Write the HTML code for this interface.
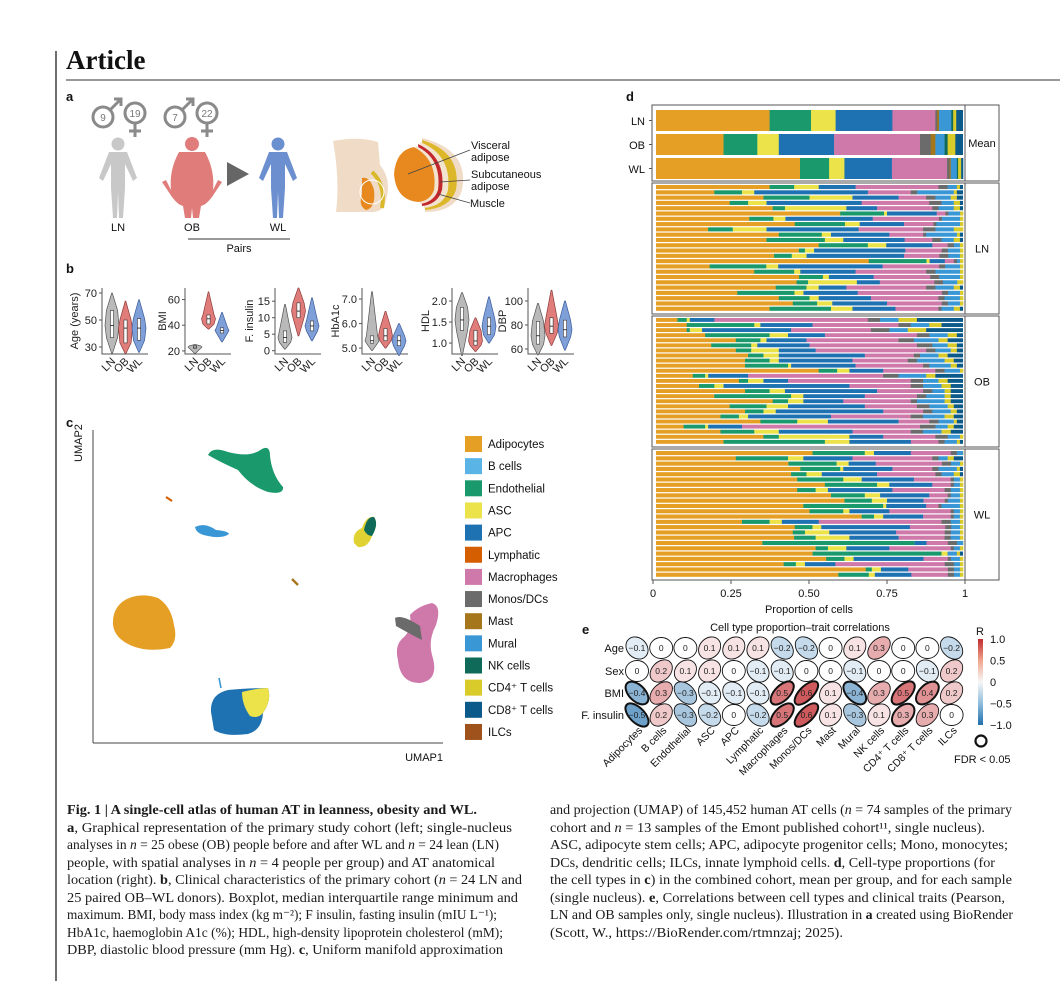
<!DOCTYPE html>
<html><head><meta charset="utf-8">
<style>
html,body{margin:0;padding:0;background:#fff;}
svg{display:block;font-family:"Liberation Sans",sans-serif;}
.cap{font-family:"Liberation Serif",serif;font-size:13.3px;fill:#1a1a1a;}
.tk{font-size:11px;fill:#222;}
</style></head>
<body>
<svg id="fig" width="1060" height="981" viewBox="0 0 1060 981" xmlns="http://www.w3.org/2000/svg">
<rect width="1060" height="981" fill="#fff"/>
<line x1="56" y1="51" x2="56" y2="981" stroke="#222" stroke-width="1.3"/>
<text x="66" y="69" font-family="Liberation Serif,serif" font-weight="bold" font-size="27" fill="#111">Article</text>
<line x1="66" y1="80" x2="1060" y2="80" stroke="#333" stroke-width="1"/>

<g font-weight="bold" font-size="13" fill="#111">
<text x="66" y="101">a</text>
<text x="66" y="273">b</text>
<text x="66" y="427">c</text>
<text x="626" y="101">d</text>
<text x="582" y="634">e</text>
</g>

<g id="panelA">
 <g fill="none" stroke="#8a8a8a" stroke-width="3">
  <circle cx="103" cy="117" r="10"/><path d="M110 110 L121 99 M114 99 H121 V106"/>
  <circle cx="135" cy="113" r="10"/><path d="M135 123 V137 M129 131 H141"/>
  <circle cx="175" cy="117" r="10"/><path d="M182 110 L193 99 M186 99 H193 V106"/>
  <circle cx="207" cy="113" r="10"/><path d="M207 123 V137 M201 131 H213"/>
 </g>
 <g font-size="10" fill="#777" text-anchor="middle">
  <text x="103" y="121">9</text>
  <text x="135" y="117">19</text>
  <text x="175" y="121">7</text>
  <text x="207" y="117">22</text>
 </g>
 <g fill="#c8c8c8">
  <circle cx="118" cy="144" r="6.5"/><path d="M109 152 H127 L137 178 L133 181 L125 164 L125 188 L123 218 L119 218 L118 192 L117 218 L113 218 L111 188 L111 164 L103 181 L99 178 Z"/>
 </g>
 <g fill="#e07d7b">
  <circle cx="192" cy="144" r="7"/><path d="M179 152 H205 Q215 170 213 190 L218 180 L222 182 L212 197 Q206 205 201 206 L199 218 L193 218 L192 208 L191 218 L185 218 L183 206 Q178 205 172 197 L162 182 L166 180 L171 190 Q169 170 179 152 Z"/>
 </g>
 <polygon points="227,162 249,174 227,186" fill="#666"/>
 <g fill="#6c8fd0">
  <circle cx="278" cy="144" r="6.5"/><path d="M269 152 H287 L297 178 L293 181 L285 164 L285 188 L283 218 L279 218 L278 192 L277 218 L273 218 L271 188 L271 164 L263 181 L259 178 Z"/>
 </g>
 <g font-size="11" fill="#111" text-anchor="middle">
  <text x="118" y="231">LN</text>
  <text x="192" y="231">OB</text>
  <text x="278" y="231">WL</text>
  <text x="239" y="252">Pairs</text>
 </g>
 <line x1="188" y1="239" x2="290" y2="239" stroke="#333"/>
 <g>
  <path d="M333 141 Q360 136 378 142 L380 165 Q392 180 386 200 Q384 212 372 212 L336 212 Q340 180 333 141 Z" fill="#f0dcc6"/>
  <path d="M362 178 Q370 176 374 190 Q376 208 366 210 Q358 206 362 194 Z" fill="#e8891f"/>
  <path d="M372 172 Q386 185 382 208" stroke="#d9b92a" stroke-width="4" fill="none"/>
  <circle cx="372" cy="192" r="12" fill="none" stroke="#fff" stroke-width="1"/>
  <path d="M422 138 Q470 150 462 190 Q455 212 425 212 Z" fill="#f0dcc6"/>
  <path d="M422 140 Q462 152 456 190 Q450 208 425 210 Z" fill="#dcb72a"/>
  <path d="M420 142 Q452 155 448 190 Q444 206 424 208 Z" fill="#f2e4cf"/>
  <path d="M418 144 Q446 157 442 190 Q438 204 422 206 Z" fill="#c2272d"/>
  <path d="M416 146 Q442 158 438 190 Q434 202 420 204 Z" fill="#f2e4cf"/>
  <path d="M414 147 Q438 160 434 190 Q430 201 418 202 Q396 200 394 174 Q396 150 414 147 Z" fill="#e8891f"/>
 </g>
 <g stroke="#444" stroke-width="0.8">
  <line x1="408" y1="174" x2="470" y2="150"/><line x1="440" y1="182" x2="470" y2="180"/><line x1="438" y1="194" x2="470" y2="203"/>
 </g>
 <g font-size="11" fill="#111">
  <text x="471" y="149">Visceral</text>
  <text x="471" y="161">adipose</text>
  <text x="471" y="178">Subcutaneous</text>
  <text x="471" y="190">adipose</text>
  <text x="470" y="207">Muscle</text>
 </g>
</g>

<g id="panelB"></g>
<g id="panelC">
 <line x1="93" y1="430" x2="93" y2="743" stroke="#444"/>
 <line x1="93" y1="743" x2="443" y2="743" stroke="#444"/>
 <text x="0" y="0" transform="translate(82,462) rotate(-90)" font-size="11" fill="#111">UMAP2</text>
 <text x="443" y="761" font-size="11" fill="#111" text-anchor="end">UMAP1</text>
 <g>
  <path d="M208 455 Q212 446 228 452 Q250 458 262 449 Q270 445 270 456 Q272 475 283 487 Q284 495 268 492 Q250 486 238 470 Q220 462 208 455 Z" fill="#1a9a6c"/>
  <path d="M195 527 Q205 522 216 530 Q228 531 229 534 Q222 539 208 536 Q196 534 195 527 Z" fill="#3a97d6"/>
  <path d="M166 497 L172 501" stroke="#d55e00" stroke-width="2"/>
  <path d="M292 579 L298 585" stroke="#a6761d" stroke-width="2.4"/>
  <path d="M354 543 Q352 532 362 528 Q366 516 374 517 Q379 524 372 536 Q368 548 358 547 Z" fill="#e0d233"/>
  <path d="M364 530 Q367 516 374 517 Q379 524 372 536 Q367 536 364 530 Z" fill="#0f6a59"/>
  <path d="M113 625 Q112 608 125 600 Q140 592 158 598 Q171 606 174 625 Q178 640 170 648 Q150 652 135 647 Q115 640 113 625 Z" fill="#e69f25"/>
  <path d="M398 660 Q394 645 404 637 Q412 630 410 615 Q418 606 432 603 Q442 606 436 625 Q428 640 432 655 Q440 680 420 683 Q400 683 398 660 Z" fill="#cf78aa"/>
  <path d="M395 618 Q402 614 420 626 L422 640 Q410 634 396 626 Z" fill="#6b6b6b"/>
  <path d="M211 712 Q210 694 228 690 Q250 688 268 688 Q272 700 263 713 Q262 730 248 734 Q225 737 214 730 Z" fill="#1f72b2"/>
  <path d="M242 692 Q258 688 268 688 Q272 700 263 713 Q258 719 250 716 Q242 705 242 692 Z" fill="#ece24a"/>
  <path d="M219 678 L221 688" stroke="#3a97d6" stroke-width="1.6"/>
 </g>
 <g id="legendC"></g>
</g>

<g id="panelD"></g>
<g id="panelE"></g>

<g class="cap">
 <text x="67" y="814" textLength="410" lengthAdjust="spacingAndGlyphs" font-weight="bold">Fig. 1 | A single-cell atlas of human AT in leanness, obesity and WL.</text>
 <text x="67" y="832" textLength="445" lengthAdjust="spacingAndGlyphs"><tspan font-weight="bold">a</tspan>, Graphical representation of the primary study cohort (left; single-nucleus</text>
 <text x="67" y="849" textLength="432" lengthAdjust="spacingAndGlyphs">analyses in <tspan font-style="italic">n</tspan> = 25 obese (OB) people before and after WL and <tspan font-style="italic">n</tspan> = 24 lean (LN)</text>
 <text x="67" y="867" textLength="428" lengthAdjust="spacingAndGlyphs">people, with spatial analyses in <tspan font-style="italic">n</tspan> = 4 people per group) and AT anatomical</text>
 <text x="67" y="884" textLength="455" lengthAdjust="spacingAndGlyphs">location (right). <tspan font-weight="bold">b</tspan>, Clinical characteristics of the primary cohort (<tspan font-style="italic">n</tspan> = 24 LN and</text>
 <text x="67" y="902" textLength="451" lengthAdjust="spacingAndGlyphs">25 paired OB–WL donors). Boxplot, median interquartile range minimum and</text>
 <text x="67" y="919" textLength="430" lengthAdjust="spacingAndGlyphs">maximum. BMI, body mass index (kg m⁻²); F insulin, fasting insulin (mIU L⁻¹);</text>
 <text x="67" y="937" textLength="436" lengthAdjust="spacingAndGlyphs">HbA1c, haemoglobin A1c (%); HDL, high-density lipoprotein cholesterol (mM);</text>
 <text x="67" y="954" textLength="436" lengthAdjust="spacingAndGlyphs">DBP, diastolic blood pressure (mm Hg). <tspan font-weight="bold">c</tspan>, Uniform manifold approximation</text>
 <text x="550" y="814" textLength="462" lengthAdjust="spacingAndGlyphs">and projection (UMAP) of 145,452 human AT cells (<tspan font-style="italic">n</tspan> = 74 samples of the primary</text>
 <text x="550" y="832" textLength="435" lengthAdjust="spacingAndGlyphs">cohort and <tspan font-style="italic">n</tspan> = 13 samples of the Emont published cohort¹¹, single nucleus).</text>
 <text x="550" y="849" textLength="458" lengthAdjust="spacingAndGlyphs">ASC, adipocyte stem cells; APC, adipocyte progenitor cells; Mono, monocytes;</text>
 <text x="550" y="867" textLength="445" lengthAdjust="spacingAndGlyphs">DCs, dendritic cells; ILCs, innate lymphoid cells. <tspan font-weight="bold">d</tspan>, Cell-type proportions (for</text>
 <text x="550" y="884" textLength="462" lengthAdjust="spacingAndGlyphs">the cell types in <tspan font-weight="bold">c</tspan>) in the combined cohort, mean per group, and for each sample</text>
 <text x="550" y="902" textLength="455" lengthAdjust="spacingAndGlyphs">(single nucleus). <tspan font-weight="bold">e</tspan>, Correlations between cell types and clinical traits (Pearson,</text>
 <text x="550" y="919" textLength="463" lengthAdjust="spacingAndGlyphs">LN and OB samples only, single nucleus). Illustration in <tspan font-weight="bold">a</tspan> created using BioRender</text>
 <text x="550" y="937" textLength="293" lengthAdjust="spacingAndGlyphs">(Scott, W., https://BioRender.com/rtmnzaj; 2025).</text>
</g>
</svg>

<script>
var NS='http://www.w3.org/2000/svg';
function mk(tag,attrs,parent){var e=document.createElementNS(NS,tag);for(var k in attrs)e.setAttribute(k,attrs[k]);parent.appendChild(e);return e;}

var cellTypes=['Adipocytes','B cells','Endothelial','ASC','APC','Lymphatic','Macrophages','Monos/DCs','Mast','Mural','NK cells','CD4⁺ T cells','CD8⁺ T cells','ILCs'];
var cellColors=['#e69f25','#5ab4e5','#1a9a6c','#ece24a','#1f72b2','#d55e00','#cf78aa','#6b6b6b','#a6761d','#3a97d6','#0f6a59','#d9cb2a','#0b5a8a','#a0521c'];

var traitNames=['Age (years)','BMI','F. insulin','HbA1c','HDL','DBP'];
var groupNames=['LN','OB','WL'];
var traitTicks=[[30,50,70],[20,40,60],[0,5,10,15],[5.0,6.0,7.0],[1.0,1.5,2.0],[60,80,100]];
var traitTickLabels=[['30','50','70'],['20','40','60'],['0','5','10','15'],['5.0','6.0','7.0'],['1.0','1.5','2.0'],['60','80','100']];
var traitDomains=[[24.8,73.7],[17.6,69],[-1,19],[4.76,7.45],[0.74,2.31],[55.8,110.8]];
var statsAge=[[25,37,46,57,70],[25,33,44,50,64],[26,35,44,51,65]];
var statsBMI=[[18,22,23,24,25],[37,41,45,48,66],[27,34,36,38,50]];
var statsIns=[[0.5,2.5,4,6,14],[4.5,10,12,14.5,19],[3,6,7.5,9,16]];
var statsHb=[[4.9,5.2,5.3,5.5,7.3],[5.0,5.3,5.5,5.8,6.5],[4.7,5.1,5.3,5.5,6.0]];
var statsHDL=[[0.7,1.3,1.55,1.85,2.2],[0.8,0.95,1.05,1.3,1.6],[1.0,1.2,1.4,1.6,2.1]];
var statsDBP=[[55,64,71,83,98],[63,73,79,86,109],[59,70,76,84,100]];
var allStats=[statsAge,statsBMI,statsIns,statsHb,statsHDL,statsDBP];

var meanLN=[37,13.5,8,18.5,14,0.6,0.6,4,0.6,1,0.6];
var meanOB=[22,11,7,18,28,3.5,1.5,3,1,2.5,1];
var meanWL=[47,9.5,5,15.5,18,0.8,0.4,2,0.4,1,0.6];
var samplesLN=["37 8 8 12 27 3 3 1","19 9 4 37 14 2 12 1","35 15 14 15 9 3 5 2","24 6 6 31 22 4 4 2","38 4 20 10 18 2 5 2","63 15 1 17 3 1 4 1","31 8 4 29 22 1 6 1","47 17 5 15 10 1 8 1","17 8 11 30 21 4 6 3","40 14 3 19 11 1 10 1","36 19 6 20 9 3 4 2","53 16 6 15 5 2 2 1","47 2 3 30 12 2 4 1","40 6 5 33 12 3 4 1","70 19 1 5 3 1 1 1","18 19 4 35 19 2 5 1","32 13 2 18 23 3 8 1","48 8 2 15 19 3 7 1","49 4 17 8 19 3 5 2","39 10 4 9 26 3 6 2","27 19 3 18 28 2 4 1","40 10 3 17 22 2 5 1","45 8 5 18 18 2 4 1","37 20 7 14 14 1 4 2"];
var samplesOB=["7 3 1 8 50 4 6 6","10 22 2 17 28 4 6 4","10 1 4 29 26 6 6 6","16 21 6 12 30 4 6 3","26 8 2 13 30 5 8 3","18 13 2 17 35 5 5 3","26 5 9 12 36 3 5 2","30 5 5 28 16 2 6 3","29 8 3 24 18 3 9 3","29 14 1 21 22 2 7 2","53 6 4 11 17 3 5 1","12 4 1 13 44 5 9 3","27 3 5 8 40 4 5 3","14 5 3 41 20 4 6 3","29 8 5 30 15 3 4 2","19 25 4 20 17 3 6 2","38 5 5 13 22 2 9 2","24 12 7 25 17 4 6 2","29 6 4 35 13 3 6 2","21 6 3 27 26 4 7 3","34 12 10 23 10 3 5 1","9 7 1 11 58 5 4 2","21 11 8 24 19 4 6 3","35 5 23 11 17 4 4 1","22 33 8 20 9 2 4 1"];
var samplesWL=["51 17 3 12 13 2 2 0","26 17 5 16 26 2 3 2","44 16 4 9 22 3 3 1","47 13 1 16 13 2 6 1","44 5 5 18 19 2 4 2","46 15 6 17 12 1 2 1","55 17 4 14 6 1 2 1","46 6 4 21 17 2 3 1","57 11 5 16 6 1 3 1","62 9 5 12 7 1 4 1","48 26 1 13 4 1 6 1","50 11 2 13 20 1 2 1","67 4 3 13 9 1 2 1","28 9 4 12 40 3 3 1","47 6 3 30 12 2 3 1","45 4 8 22 16 2 3 1","45 7 11 16 15 2 3 1","35 50 0 4 7 3 2 0","52 4 6 14 20 1 2 1","51 42 2 0 0 0 3 1","56 6 3 23 8 1 3 1","42 4 3 10 36 3 2 1","69 2 3 9 13 2 2 1","60 10 2 12 12 2 2 1"];
var axisTicksD=[0,0.25,0.5,0.75,1];
var axisTickLabelsD=['0','0.25','0.50','0.75','1'];

var corrTraits=['Age','Sex','BMI','F. insulin'];
var corrAge=[-0.1,0,0,0.1,0.1,0.1,-0.2,-0.2,0,0.1,0.3,0,0,-0.2];
var corrSex=[0,0.2,0.1,0.1,0,-0.1,-0.1,0,0,-0.1,0,0,-0.1,0.2];
var corrBMI=[-0.4,0.3,-0.3,-0.1,-0.1,-0.1,0.5,0.6,0.1,-0.4,0.3,0.5,0.4,0.2];
var corrIns=[-0.5,0.2,-0.3,-0.2,0,-0.2,0.5,0.6,0.1,-0.3,0.1,0.3,0.3,0];
var sigAge=[0,0,0,0,0,0,0,0,0,0,0,0,0,0];
var sigSex=[0,0,0,0,0,0,0,0,0,0,0,0,0,0];
var sigBMI=[1,0,0,0,0,0,1,1,0,1,0,1,1,0];
var sigIns=[1,0,0,0,0,0,1,1,0,0,0,1,0,0];
var corrCols=['Adipocytes','B cells','Endothelial','ASC','APC','Lymphatic','Macrophages','Monos/DCs','Mast','Mural','NK cells','CD4⁺ T cells','CD8⁺ T cells','ILCs'];
var cbTicks=[1.0,0.5,0,-0.5,-1.0];
var cbTickLabels=['1.0','0.5','0','−0.5','−1.0'];

(function(){
 var g=document.getElementById('panelB');
 var axX=[102,185,275,362,452,528];
 var labX=[78,166,253,339,429,506];
 var top=288,bot=354;
 var gcol=['#b9b9b9','#e07d7b','#7f9fd8'];
 var gstroke=['#555','#8a3b3a','#3a5c98'];
 for(var p=0;p<6;p++){
  var dom=traitDomains[p];
  var y=(function(d){return function(v){return bot-(v-d[0])/(d[1]-d[0])*(bot-top);};})(dom);
  var ax=axX[p];
  var a=mk('path',{d:'M'+ax+' '+top+' V'+bot+' H'+(ax+46),fill:'none',stroke:'#555','stroke-width':1},g);
  
  
  for(var t=0;t<traitTicks[p].length;t++){
   var ty=y(traitTicks[p][t]);
   mk('line',{x1:ax-3,x2:ax,y1:ty,y2:ty,stroke:'#555'},g);
   var tl=mk('text',{x:ax-5,y:ty+4,'text-anchor':'end','class':'tk'},g);
   tl.textContent=traitTickLabels[p][t];
   
   
  }
  var yl=mk('text',{transform:'translate('+labX[p]+','+(top+33)+') rotate(-90)','text-anchor':'middle','class':'tk'},g);
  yl.textContent=traitNames[p];
  
  
  for(var k=0;k<3;k++){
   var s=allStats[p][k];
   var cx=ax+10+k*13.5;
   var mw=7;
   var prof=[[s[0],0.05],[s[1],0.8],[s[2],1],[s[3],0.8],[s[4],0.05]];
   var right=[],left=[],i;
   for(i=0;i<prof.length;i++){right.push([cx+prof[i][1]*mw,y(prof[i][0])]);left.push([cx-prof[i][1]*mw,y(prof[i][0])]);}
   var d='M'+right[0][0]+' '+right[0][1];
   for(i=1;i<right.length;i++)d+=' L'+right[i][0].toFixed(1)+' '+right[i][1].toFixed(1);
   for(i=left.length-1;i>=0;i--)d+=' L'+left[i][0].toFixed(1)+' '+left[i][1].toFixed(1);
   d+='Z';
   var v=mk('path',{d:d,fill:gcol[k],stroke:gstroke[k],'stroke-width':0.7,'stroke-linejoin':'round'},g);
   
   
   var bx=mk('rect',{x:cx-1.6,y:y(s[3]),width:3.2,height:y(s[1])-y(s[3]),fill:'#fff',stroke:'#333','stroke-width':0.6},g);
   
   
   mk('line',{x1:cx-1.6,x2:cx+1.6,y1:y(s[2]),y2:y(s[2]),stroke:'#111','stroke-width':0.8},g);
   var xl=mk('text',{transform:'translate('+(cx+4)+','+(bot+8)+') rotate(-45)','text-anchor':'end','class':'tk'},g);
   xl.textContent=groupNames[k];
   
   
  }
 }
})();

(function(){
 var g=document.getElementById('legendC');
 for(var i=0;i<cellTypes.length;i++){
  var cy=444+i*22.15;
  var r=mk('rect',{x:465,y:cy-8,width:17,height:16,fill:cellColors[i]},g);
  
  
  var t=mk('text',{x:488,y:cy+4,'font-size':11.5,fill:'#111'},g);
  t.textContent=cellTypes[i];
  
  
 }
})();

(function(){
 var g=document.getElementById('panelD');
 var x0=656,x1=963;
 function X(v){return x0+v*(x1-x0);}
 var meanOrder=[0,2,3,4,6,7,8,9,10,11,12];
 var sampOrder=[0,2,3,4,6,7,9,11];
 var boxes=[[105,181,'Mean'],[183,314,'LN'],[316,447,'OB'],[449,580,'WL']];
 for(var b=0;b<boxes.length;b++){
  var r=mk('rect',{x:652,y:boxes[b][0],width:313,height:boxes[b][1]-boxes[b][0],fill:'#fff',stroke:'#555','stroke-width':1},g);
  
  
  var s=mk('rect',{x:965,y:boxes[b][0],width:34,height:boxes[b][1]-boxes[b][0],fill:'#fff',stroke:'#555','stroke-width':1},g);
  
  
  var st=mk('text',{x:982,y:(boxes[b][0]+boxes[b][1])/2+4,'text-anchor':'middle','font-size':11,fill:'#111'},g);
  st.textContent=boxes[b][2];
  
  
 }
 function drawRow(vals,order,y,h,rest){
  var tot=0,i;for(i=0;i<vals.length;i++)tot+=vals[i];
  var denom=Math.max(100,tot);
  var acc=0;
  for(i=0;i<vals.length;i++){
   var w=vals[i]/denom;
   var r=mk('rect',{x:X(acc),y:y,width:Math.max(0,X(acc+w)-X(acc))+0.3,height:h,fill:cellColors[order[i]]},g);
   
   
   acc+=w;
  }
  if(rest&&acc<1){
   var r2=mk('rect',{x:X(acc),y:y,width:X(1)-X(acc),height:h,fill:cellColors[12]},g);
   
   
  }
 }
 var means=[meanLN,meanOB,meanWL];
 var meanY=[110,134,158];
 for(var m=0;m<3;m++){
  drawRow(means[m],meanOrder,meanY[m],21,true);
  mk('line',{x1:649,x2:652,y1:meanY[m]+10.5,y2:meanY[m]+10.5,stroke:'#555'},g);
  var lt=mk('text',{x:645,y:meanY[m]+15,'text-anchor':'end','font-size':11,fill:'#111'},g);
  lt.textContent=groupNames[m];
  
  
 }
 var sets=[samplesLN,samplesOB,samplesWL];
 for(var s=0;s<3;s++){
  var top=boxes[s+1][0]+2,bot=boxes[s+1][1]-2;
  var n=sets[s].length,pitch=(bot-top)/n;
  for(var i=0;i<n;i++){
   var vals=sets[s][i].split(' ').map(Number);
   drawRow(vals,sampOrder,top+i*pitch,pitch-1.2,true);
  }
 }
 for(var t=0;t<axisTicksD.length;t++){
  var tx=653+axisTicksD[t]*(965-653);
  mk('line',{x1:tx,x2:tx,y1:580,y2:584,stroke:'#555'},g);
  var tl=mk('text',{x:tx,y:597,'text-anchor':'middle','font-size':11,fill:'#111'},g);
  tl.textContent=axisTickLabelsD[t];
  
  
 }
 var xt=mk('text',{x:809,y:613,'text-anchor':'middle','font-size':11,fill:'#111'},g);
 xt.textContent='Proportion of cells';
 
 
})();

(function(){
 var g=document.getElementById('panelE');
 var rows=[corrAge,corrSex,corrBMI,corrIns];
 var sigs=[sigAge,sigSex,sigBMI,sigIns];
 var rowY=[648,671,693,715];
 function colX(i){return 637+i*24.2;}
 function col(r){
  var t=Math.min(1,Math.abs(r)*1.3);
  var c=r>=0?[194,43,47]:[31,111,173];
  var rgb=[0,1,2].map(function(j){return Math.round(255+(c[j]-255)*t);});
  return 'rgb('+rgb.join(',')+')';
 }
 var tt=mk('text',{x:800,y:631,'text-anchor':'middle','font-size':11,fill:'#111'},g);
 tt.textContent='Cell type proportion–trait correlations';
 
 
 for(var r=0;r<4;r++){
  var lab=mk('text',{x:624,y:rowY[r]+4,'text-anchor':'end','font-size':11,fill:'#111'},g);
  lab.textContent=corrTraits[r];
  
  
  for(var c=0;c<14;c++){
   var v=rows[r][c],a=Math.abs(v);
   var rx=11.5+6*a,ry=10.5-6*a;
   var rot=v>0?-45:(v<0?45:0);
   var e=mk('ellipse',{cx:0,cy:0,rx:rx,ry:ry,fill:col(v),stroke:'#111','stroke-width':sigs[r][c]?2:0.9,transform:'translate('+colX(c)+','+rowY[r]+') rotate('+rot+')'},g);
   
   
   var tx=mk('text',{x:colX(c),y:rowY[r]+3,'text-anchor':'middle','font-size':8.5,fill:'#222'},g);
   tx.textContent=v===0?'0':(v<0?'−':'')+a.toFixed(1);
   
   
  }
 }
 for(var c2=0;c2<14;c2++){
  var cl=mk('text',{transform:'translate('+(colX(c2)+6)+',731) rotate(-45)','text-anchor':'end','font-size':10.5,fill:'#111'},g);
  cl.textContent=corrCols[c2];
  
  
 }
 var defs=mk('defs',{},g);
 var lg=mk('linearGradient',{id:'cbg',x1:0,y1:0,x2:0,y2:1},defs);
 mk('stop',{offset:'0','stop-color':'#c22b2f'},lg);
 mk('stop',{offset:'0.25','stop-color':'#f0a58c'},lg);
 mk('stop',{offset:'0.5','stop-color':'#f7f7f7'},lg);
 mk('stop',{offset:'0.75','stop-color':'#8fbcdc'},lg);
 mk('stop',{offset:'1','stop-color':'#1f6fad'},lg);
 var cb=mk('rect',{x:978,y:639,width:5,height:86,fill:'url(#cbg)'},g);
 
 
 var rt=mk('text',{x:976,y:635,'font-size':11,fill:'#111'},g);
 rt.textContent='R';
 
 
 for(var k=0;k<cbTicks.length;k++){
  var yy=639+(1-cbTicks[k])/2*86;
  var ct=mk('text',{x:990,y:yy+4,'font-size':11,fill:'#111'},g);
  ct.textContent=cbTickLabels[k];
  
  
 }
 var fc=mk('circle',{cx:981,cy:741,r:5.5,fill:'none',stroke:'#111','stroke-width':2.2},g);
 
 
 var ft=mk('text',{x:954,y:763,'font-size':11,fill:'#111'},g);
 ft.textContent='FDR < 0.05';
 
 
})();
</script>
</body></html>
